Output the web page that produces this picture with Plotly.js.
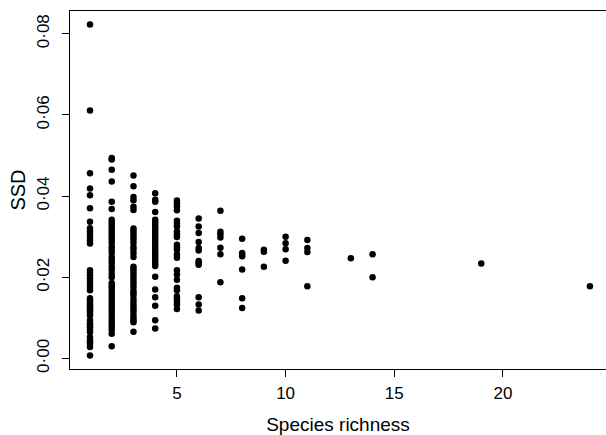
<!DOCTYPE html>
<html>
<head>
<meta charset="utf-8">
<script src="https://cdn.plot.ly/plotly-3.0.1.min.js"></script>
<style>html,body{margin:0;padding:0;background:#fff;}#chart{width:606px;height:435px;}</style>
</head>
<body>
<div id="chart"></div>
<script>
// Species richness levels and SSD values
const richnessLevels = [1, 2, 3, 4, 5, 6, 7, 8, 9, 10, 11, 13, 14, 19, 24];
const ssd_r1 = [0.0823, 0.0611, 0.0456, 0.0419, 0.0402, 0.0370, 0.0337, 0.0321, 0.0313, 0.0305, 0.0298, 0.0291, 0.0283,
  0.0217, 0.0211, 0.0205, 0.0197, 0.0189, 0.0181, 0.0174, 0.0168, 0.0148, 0.0144, 0.0140, 0.0135, 0.0131, 0.0127,
  0.0123, 0.0119, 0.0115, 0.0110, 0.0106, 0.0094, 0.0086, 0.0081, 0.0077, 0.0071, 0.0065, 0.0053, 0.0044, 0.0040,
  0.0036, 0.0028, 0.0007];
const ssd_r2 = [0.0494, 0.0490, 0.0465, 0.0436, 0.0386, 0.0368, 0.0342, 0.0335, 0.0328, 0.0321, 0.0313, 0.0306, 0.0298,
  0.0292, 0.0285, 0.0275, 0.0268, 0.0260, 0.0250, 0.0243, 0.0235, 0.0226, 0.0218, 0.0208, 0.0200, 0.0186, 0.0180,
  0.0174, 0.0166, 0.0158, 0.0150, 0.0142, 0.0134, 0.0126, 0.0118, 0.0110, 0.0102, 0.0094, 0.0086, 0.0078, 0.0070,
  0.0061, 0.0030];
const ssd_r3 = [0.0451, 0.0424, 0.0398, 0.0390, 0.0374, 0.0366, 0.0320, 0.0314, 0.0307, 0.0300, 0.0293, 0.0285, 0.0275,
  0.0268, 0.0259, 0.0250, 0.0226, 0.0220, 0.0213, 0.0206, 0.0199, 0.0191, 0.0184, 0.0176, 0.0167, 0.0161, 0.0155,
  0.0146, 0.0138, 0.0130, 0.0123, 0.0116, 0.0108, 0.0100, 0.0094, 0.0089, 0.0066];
const ssd_r4 = [0.0407, 0.0391, 0.0386, 0.0361, 0.0342, 0.0336, 0.0330, 0.0323, 0.0317, 0.0310, 0.0303, 0.0297, 0.0290,
  0.0283, 0.0276, 0.0268, 0.0261, 0.0254, 0.0247, 0.0240, 0.0234, 0.0228, 0.0201, 0.0170, 0.0151, 0.0130, 0.0094, 0.0074];
const ssd_r5 = [0.0389, 0.0382, 0.0375, 0.0365, 0.0339, 0.0332, 0.0325, 0.0313, 0.0306, 0.0299, 0.0280, 0.0274, 0.0268,
  0.0256, 0.0248, 0.0217, 0.0207, 0.0194, 0.0174, 0.0168, 0.0153, 0.0147, 0.0141, 0.0133, 0.0122];
const ssd_r6 = [0.0345, 0.0325, 0.0309, 0.0287, 0.0272, 0.0266, 0.0240, 0.0236, 0.0231, 0.0151, 0.0133, 0.0118];
const ssd_r7 = [0.0364, 0.0312, 0.0306, 0.0298, 0.0273, 0.0257, 0.0188];
const ssd_r8 = [0.0295, 0.0260, 0.0256, 0.0252, 0.0219, 0.0148, 0.0124];
const ssd_r9 = [0.0268, 0.0263, 0.0226];
const ssd_r10 = [0.0300, 0.0284, 0.0269, 0.0241];
const ssd_r11 = [0.0292, 0.0272, 0.0262, 0.0178];
const ssd_r13 = [0.0247];
const ssd_r14 = [0.0257, 0.0200];
const ssd_r19 = [0.0234];
const ssd_r24 = [0.0178];

const xTickVals = [5, 10, 15, 20];
const xTickText = ["5", "10", "15", "20"];
const yTickVals = [0, 0.02, 0.04, 0.06, 0.08];
const yTickText = ["0\u00b700", "0\u00b702", "0\u00b704", "0\u00b706", "0\u00b708"];

const groups = [ssd_r1, ssd_r2, ssd_r3, ssd_r4, ssd_r5, ssd_r6, ssd_r7, ssd_r8, ssd_r9, ssd_r10, ssd_r11, ssd_r13, ssd_r14, ssd_r19, ssd_r24];
const xs = [], ys = [];
groups.forEach((g, i) => g.forEach(v => { xs.push(richnessLevels[i]); ys.push(v); }));

const font = {family: "Liberation Sans, Arial, sans-serif", color: "#000"};

const trace = {
  x: xs, y: ys, type: "scatter", mode: "markers",
  marker: {color: "#000", size: 6.5, line: {width: 0}},
  hoverinfo: "none"
};

const layout = {
  width: 606, height: 435,
  margin: {l: 70, r: 0, t: 11, b: 66},
  paper_bgcolor: "#fff", plot_bgcolor: "#fff",
  showlegend: false,
  font: Object.assign({size: 17}, font),
  xaxis: {
    range: [0.08, 24.74],
    tickvals: xTickVals, ticktext: xTickText,
    ticks: "outside", ticklen: 7, tickwidth: 1, tickcolor: "#000",
    showgrid: false, zeroline: false,
    showline: true, mirror: true, linecolor: "#000", linewidth: 1,
    tickfont: Object.assign({size: 17}, font),
    ticklabelstandoff: 2,
    title: {text: "Species richness", font: Object.assign({size: 19}, font), standoff: 18}
  },
  yaxis: {
    range: [-0.0026, 0.0856],
    tickvals: yTickVals, ticktext: yTickText,
    tickangle: -90,
    ticks: "outside", ticklen: 7, tickwidth: 1, tickcolor: "#000",
    showgrid: false, zeroline: false,
    showline: true, mirror: false, linecolor: "#000", linewidth: 1,
    tickfont: Object.assign({size: 17}, font),
    ticklabelstandoff: 6,
    title: {text: "SSD", font: Object.assign({size: 20}, font), standoff: 3}
  }
};

Plotly.newPlot("chart", [trace], layout, {displayModeBar: false, staticPlot: true});
</script>
</body>
</html>
